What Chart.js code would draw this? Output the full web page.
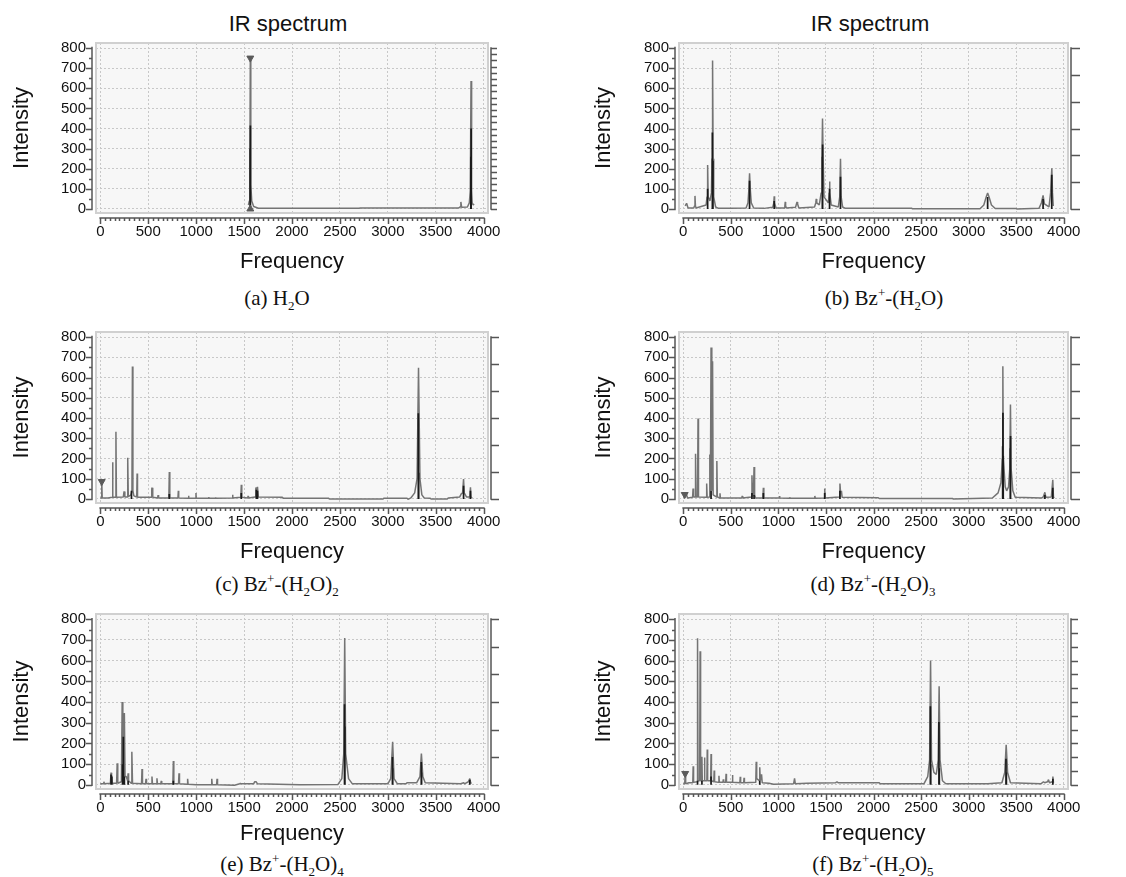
<!DOCTYPE html>
<html>
<head>
<meta charset="utf-8">
<script src="https://cdn.jsdelivr.net/npm/chart.js@4.4.1/dist/chart.umd.min.js"></script>
<style>
  body { margin: 0; background: #fff; width: 1126px; height: 877px; position: relative; overflow: hidden; }
  canvas { position: absolute; }
  .ttl { position: absolute; font: 22px "Liberation Sans", Arial, sans-serif; color: #111; transform: translate(-50%, -50%); white-space: nowrap; }
  .cap { position: absolute; font: 21px "Liberation Serif", "Times New Roman", serif; color: #111; transform: translate(-50%, -50%); white-space: nowrap; }
  .cap sub, .cap sup { font-size: 0.62em; line-height: 0; }
</style>
</head>
<body>
<div class="ttl" style="left:288px;top:24px">IR spectrum</div>
<div class="ttl" style="left:870px;top:24px">IR spectrum</div>
<div class="cap" style="left:277px;top:298px">(a) H<sub>2</sub>O</div>
<div class="cap" style="left:884px;top:298px">(b) Bz<sup>+</sup>-(H<sub>2</sub>O)</div>
<div class="cap" style="left:277px;top:584px">(c) Bz<sup>+</sup>-(H<sub>2</sub>O)<sub>2</sub></div>
<div class="cap" style="left:873px;top:584px">(d) Bz<sup>+</sup>-(H<sub>2</sub>O)<sub>3</sub></div>
<div class="cap" style="left:282px;top:864px">(e) Bz<sup>+</sup>-(H<sub>2</sub>O)<sub>4</sub></div>
<div class="cap" style="left:873px;top:864px">(f) Bz<sup>+</sup>-(H<sub>2</sub>O)<sub>5</sub></div>

<script>
// Spectra: broadened envelope (grey) and mode sticks (black)

// (a) H2O
const freqA = [1545, 1555, 1560, 1565, 1570, 1580, 1600, 1650, 1700, 2700, 2710, 3740, 3755, 3762, 3770, 3830, 3850, 3860, 3868, 3874, 3880, 3890, 3900];
const intA  = [20, 40, 120, 750, 120, 40, 12, 4, 3, 3, 5, 5, 10, 35, 8, 10, 30, 90, 636, 90, 30, 20, 25];
const stickFreqA = [1563, 1566, 3866, 3869];
const stickIntA  = [300, 415, 260, 400];
const markDownFreqA = [1565];
const markDownIntA  = [750];
const markUpFreqA = [1565];
const markUpIntA  = [0];

// (b) Bz+-(H2O)
const freqB = [20, 35, 50, 110, 118, 123, 128, 135,
  240, 250, 256, 262, 280, 296, 302, 308, 314, 320, 340, 370, 500,
  660, 680, 690, 697, 704, 715, 740,
  850, 940, 952, 956, 960, 975,
  1060, 1068, 1072, 1076, 1085,
  1180, 1190, 1196, 1202, 1215,
  1380, 1393, 1398, 1403,
  1430, 1450, 1458, 1464, 1470, 1480,
  1525, 1534, 1538, 1542, 1555,
  1630, 1645, 1653, 1660, 1675, 1700,
  2400, 2410,
  3120, 3160, 3185, 3200, 3215, 3240, 3280,
  3500, 3510,
  3740, 3765, 3783, 3797,
  3845, 3862, 3875, 3882, 3890];
const intB = [15, 28, 5, 5, 15, 65, 15, 5,
  20, 60, 218, 60, 40, 80, 250, 738, 250, 60, 10, 3, 3,
  5, 30, 100, 177, 100, 30, 5,
  3, 8, 30, 63, 30, 5,
  5, 15, 35, 15, 5,
  8, 25, 35, 25, 5,
  10, 30, 50, 30,
  20, 80, 260, 450, 260, 60,
  30, 80, 137, 80, 20,
  10, 60, 250, 60, 10, 4,
  4, 1,
  1, 20, 60, 80, 60, 20, 2,
  2, 0,
  3, 30, 68, 25,
  10, 80, 202, 80, 15];
const stickFreqB = [256, 306, 312, 697, 956, 1462, 1465, 1538, 1653, 3200, 3783, 3874];
const stickIntB  = [100, 380, 240, 140, 40, 260, 320, 100, 160, 60, 50, 170];

// (c) Bz+-(H2O)2
const freqC = [0, 10, 15, 20, 80,
  124, 128, 132, 158, 163, 168,
  240, 248, 256, 280, 286, 292,
  320, 330, 335, 340, 350,
  380, 384, 388,
  530, 537, 542, 547,
  598, 603, 608,
  715, 720, 725,
  810, 814, 818,
  918, 921, 924,
  995, 998, 1001,
  1128, 1131, 1134,
  1199, 1202, 1205,
  1376, 1380, 1384,
  1466, 1471, 1476,
  1538, 1542, 1546,
  1615, 1623, 1632, 1640, 1648,
  1900, 1905, 2380, 2390, 2950, 2960, 3200, 3210,
  3240, 3280, 3305, 3320, 3335, 3355, 3380,
  3440, 3450, 3620, 3630,
  3750, 3766, 3780, 3790, 3797, 3820,
  3855, 3862, 3868, 3880];
const intC = [5, 5, 86, 5, 5,
  8, 181, 8, 8, 332, 8,
  10, 37, 10, 10, 204, 12,
  20, 40, 655, 40, 15,
  10, 126, 8,
  8, 52, 55, 8,
  5, 19, 5,
  5, 133, 5,
  5, 40, 5,
  3, 16, 3,
  3, 29, 3,
  3, 10, 3,
  3, 8, 3,
  5, 21, 5,
  8, 70, 8,
  5, 15, 5,
  10, 57, 30, 60, 10,
  8, 4, 4, 0, 0, 4, 4, -2,
  5, 30, 100, 648, 100, 20, 5,
  4, 0, 0, 5,
  10, 25, 30, 98, 30, 10,
  10, 57, 10, 5];
const stickFreqC = [325, 720, 1471, 1628, 1640, 3318, 3322, 3790, 3862];
const stickIntC  = [40, 25, 30, 45, 40, 424, 130, 65, 40];
const markDownFreqC = [15];
const markDownIntC  = [86];

// (d) Bz+-(H2O)3
const freqD = [5, 12, 20, 35, 45,
  98, 103, 108, 124, 129, 134, 150, 155, 160, 241, 246, 251,
  274, 279, 285, 292, 300, 308, 314,
  348, 353, 358, 382, 386, 390, 615, 620, 625,
  716, 722, 728, 738, 744, 750, 760,
  837, 842, 847, 1008, 1012, 1016, 1115, 1119, 1123, 1378, 1383, 1388, 1482, 1487, 1492,
  1640, 1647, 1654, 1663, 1670,
  2050, 2060, 2830, 2840,
  3250, 3310, 3340, 3355, 3360, 3365, 3385, 3400, 3420, 3433, 3440, 3447, 3465, 3490,
  3770, 3785, 3802, 3812,
  3870, 3885, 3892, 3900];
const intD = [20, 5, 25, 20, 5,
  8, 52, 10, 10, 223, 10, 10, 398, 10, 8, 76, 8,
  10, 220, 40, 748, 40, 681, 20,
  10, 187, 10, 5, 28, 5, 5, 15, 5,
  10, 117, 20, 20, 158, 20, 5,
  5, 55, 5, 5, 15, 5, 4, 8, 4, 4, 15, 4, 5, 52, 5,
  10, 76, 30, 40, 8,
  6, 2, 2, 0,
  5, 30, 80, 200, 656, 200, 60, 40, 60, 150, 467, 150, 40, 8,
  5, 10, 33, 8,
  10, 95, 10, 5];
const stickFreqD = [292, 722, 744, 842, 1487, 1647, 3358, 3361, 3364, 3438, 3441, 3802, 3885];
const stickIntD  = [40, 30, 20, 30, 30, 40, 260, 426, 213, 250, 311, 20, 55];
const markDownFreqD = [15];
const markDownIntD  = [22];

// (e) Bz+-(H2O)4
const freqE = [0, 30, 37, 44,
  105, 112, 118, 124,
  170, 176, 182,
  220, 228, 235, 245, 251, 258, 270, 285, 290, 295,
  322, 329, 336, 430, 435, 440, 472, 477, 482, 534, 539, 544,
  586, 591, 596, 631, 636, 641, 757, 762, 767, 816, 821, 826, 906, 911, 916,
  1000, 1158, 1163, 1168, 1213, 1218, 1223, 1400,
  1455, 1461, 1467, 1600, 1610, 1625, 1640,
  2080, 2090,
  2480, 2520, 2540, 2550, 2560, 2590, 2630,
  3000, 3030, 3050, 3065, 3100,
  3190, 3200,
  3300, 3335, 3350, 3365, 3390,
  3760, 3792, 3800,
  3840, 3855, 3862, 3870];
const intE = [5, 5, 15, 5,
  8, 59, 50, 8,
  8, 104, 8,
  15, 400, 30, 30, 347, 40, 40, 20, 56, 20,
  8, 160, 8, 5, 77, 5, 5, 29, 5, 5, 40, 5,
  5, 32, 5, 5, 19, 5, 5, 115, 5, 5, 56, 5, 3, 29, 3,
  0, 0, 29, 0, 0, 29, 0, -2,
  5, 8, 5, 5, 15, 15, 5,
  0, 0,
  2, 30, 150, 709, 150, 30, 5,
  5, 30, 208, 30, 5,
  5, 10,
  10, 40, 151, 40, 10,
  5, 10, 5,
  15, 30, 15, 5];
const stickFreqE = [112, 120, 232, 240, 251, 290, 762, 2548, 2552, 3048, 3051, 3349, 3352, 3855];
const stickIntE  = [50, 40, 100, 232, 40, 20, 20, 389, 282, 135, 80, 110, 60, 25];

// (f) Bz+-(H2O)5
const freqF = [0, 15, 20, 25, 60,
  100, 104, 108, 145, 150, 155, 172, 177, 182, 192, 196, 200,
  219, 223, 227, 248, 252, 256, 288, 292, 296, 321, 325, 329,
  371, 375, 379, 417, 421, 425, 446, 450, 454, 513, 517, 521,
  595, 599, 603, 635, 639, 643, 762, 767, 772, 800, 804, 810, 823, 830,
  900, 950, 1160, 1170, 1178, 1300, 1600, 1616, 1630,
  2060, 2070,
  2530, 2570, 2590, 2600, 2610, 2635, 2660, 2680, 2690, 2700, 2725, 2760,
  2900, 3200,
  3350, 3380, 3395, 3410, 3440,
  3760, 3787, 3800, 3830, 3840, 3850, 3880, 3886, 3892];
const intF = [5, 5, 55, 5, 10,
  10, 90, 12, 15, 708, 20, 20, 645, 20, 20, 136, 20,
  20, 132, 20, 20, 171, 20, 20, 149, 20, 15, 69, 15,
  12, 44, 12, 12, 27, 12, 12, 53, 12, 12, 47, 12,
  10, 39, 10, 10, 34, 10, 12, 112, 30, 20, 85, 20, 51, 10,
  8, 3, 5, 31, 5, 8, 10, 15, 10,
  10, 5,
  5, 40, 120, 601, 120, 60, 50, 120, 476, 120, 20, 5,
  5, 5,
  10, 60, 194, 60, 10,
  5, 15, 10, 15, 25, 10, 15, 40, 10];
const stickFreqF = [150, 196, 292, 804, 2598, 2602, 2688, 2692, 3393, 3397, 3886];
const stickIntF  = [20, 20, 40, 20, 379, 100, 303, 80, 126, 60, 30];
const markDownFreqF = [20];
const markDownIntF  = [55];

// axis tick values
const xTickValues = [0, 500, 1000, 1500, 2000, 2500, 3000, 3500, 4000];
const yTickValues = [0, 100, 200, 300, 400, 500, 600, 700, 800];

// ---- layout ----
const cols = [
  { left: 0, width: 560, boxL: 96, boxR: 488, titlePad: 9 },
  { left: 560, width: 566, boxL: 679, boxR: 1068, titlePad: 31 }
];
const rows = [
  { top: 0, height: 279, boxT: 43, boxB: 213 },
  { top: 290, height: 279, boxT: 332, boxB: 503 },
  { top: 575, height: 276, boxT: 614, boxB: 789 }
];

const FONT = '"Liberation Sans", Arial, sans-serif';
Chart.defaults.font.family = FONT;
Chart.defaults.color = '#111';

function pts(fs, is) {
  return fs.map((f, i) => ({ x: f, y: is[i] }));
}

function sticks(fs, is) {
  const out = [];
  fs.forEach((f, i) => {
    out.push({ x: f, y: 0 }, { x: f, y: is[i] }, { x: f, y: null });
  });
  return out;
}

// grey plot box + the detached axes with minor ticks
const frameAxes = {
  id: 'frameAxes',
  beforeDraw(chart) {
    const { ctx, chartArea: a } = chart;
    ctx.save();
    ctx.fillStyle = '#f7f7f7';
    ctx.fillRect(a.left, a.top, a.right - a.left, a.bottom - a.top);
    ctx.restore();
  },
  afterDraw(chart, args, opts) {
    const { ctx, chartArea: a, scales } = chart;
    const x = scales.x, y = scales.y;
    ctx.save();
    ctx.strokeStyle = '#d0d0d0';
    ctx.lineWidth = 2;
    ctx.strokeRect(a.left, a.top, a.right - a.left, a.bottom - a.top);

    ctx.strokeStyle = '#555';
    ctx.lineWidth = 1.5;
    ctx.beginPath();
    // left axis
    const lx = a.left - 4;
    ctx.moveTo(lx, y.getPixelForValue(-6));
    ctx.lineTo(lx, y.getPixelForValue(806));
    for (let v = 0; v <= 800; v += 50) {
      const py = Math.round(y.getPixelForValue(v)) + 0.5;
      ctx.moveTo(lx, py);
      ctx.lineTo(lx - (v % 100 ? 3 : 6), py);
    }
    // bottom axis
    const by = a.bottom + 5;
    ctx.moveTo(x.getPixelForValue(-10), by);
    ctx.lineTo(x.getPixelForValue(4010), by);
    for (let v = 0; v <= 4000; v += 50) {
      const px = Math.round(x.getPixelForValue(v)) + 0.5;
      ctx.moveTo(px, by);
      ctx.lineTo(px, by + (v % 500 ? 3 : 6));
    }
    // right axis
    const rx = a.right + 3;
    ctx.moveTo(rx, y.getPixelForValue(-4));
    ctx.lineTo(rx, y.getPixelForValue(804));
    for (let k = 0; k <= opts.divs; k++) {
      const py = Math.round(y.getPixelForValue(800 * k / opts.divs)) + 0.5;
      ctx.moveTo(rx, py);
      ctx.lineTo(rx + opts.len, py);
    }
    ctx.stroke();
    ctx.restore();
  }
};

function makePanel(p) {
  const col = cols[p.col], row = rows[p.row];
  const canvas = document.createElement('canvas');
  canvas.width = col.width;
  canvas.height = row.height;
  canvas.style.left = col.left + 'px';
  canvas.style.top = row.top + 'px';
  document.body.appendChild(canvas);

  const datasets = [];
  if (p.downF) {
    datasets.push({
      data: pts(p.downF, p.downI), pointStyle: 'triangle', rotation: 180,
      pointRadius: 4, backgroundColor: '#5a5a5a', borderColor: '#5a5a5a', borderWidth: 1
    });
  }
  if (p.upF) {
    datasets.push({
      data: pts(p.upF, p.upI), pointStyle: 'triangle', rotation: 0,
      pointRadius: 4, backgroundColor: '#5a5a5a', borderColor: '#5a5a5a', borderWidth: 1
    });
  }
  datasets.push({
    data: sticks(p.sf, p.si), showLine: true, pointRadius: 0,
    borderColor: '#1a1a1a', borderWidth: 1.7, spanGaps: false
  });
  datasets.push({
    data: pts(p.f, p.i), showLine: true, pointRadius: 0,
    borderColor: '#747474', borderWidth: 1.5, borderJoinStyle: 'bevel'
  });

  new Chart(canvas, {
    type: 'scatter',
    data: { datasets },
    options: {
      responsive: false,
      animation: false,
      devicePixelRatio: 1,
      layout: {
        padding: { left: 0, top: row.boxT - row.top, right: col.width - (col.boxR - col.left), bottom: 0 }
      },
      plugins: {
        legend: { display: false },
        tooltip: { enabled: false },
        frameAxes: { divs: p.rightDivs, len: p.rightLen }
      },
      scales: {
        x: {
          type: 'linear',
          bounds: 'data',
          min: -45,
          max: 4045,
          afterBuildTicks: s => { s.ticks = xTickValues.map(v => ({ value: v })); },
          afterFit: s => { s.height = row.top + row.height - row.boxB; },
          grid: { color: '#c8c8c8', lineWidth: 1, drawTicks: false },
          border: { display: false, dash: [2, 2] },
          ticks: {
            autoSkip: false, maxRotation: 0, padding: 10,
            font: { size: 15 }, color: '#111',
            callback: v => String(v)
          },
          title: {
            display: true, text: 'Frequency', color: '#111',
            font: { size: 22 }, padding: { top: 0, bottom: 4 }
          }
        },
        y: {
          type: 'linear',
          bounds: 'data',
          min: -20,
          max: 825,
          afterBuildTicks: s => { s.ticks = yTickValues.map(v => ({ value: v })); },
          afterFit: s => { s.width = col.boxL - col.left; },
          grid: { color: '#c8c8c8', lineWidth: 1, drawTicks: false },
          border: { display: false, dash: [2, 2] },
          ticks: {
            autoSkip: false, padding: 10,
            font: { size: 15 }, color: '#111',
            callback: v => String(v)
          },
          title: {
            display: true, text: 'Intensity', color: '#111',
            font: { size: 22 }, padding: { top: col.titlePad, bottom: 0 }
          }
        }
      }
    },
    plugins: [frameAxes]
  });
}

makePanel({ col: 0, row: 0, f: freqA, i: intA, sf: stickFreqA, si: stickIntA,
  downF: markDownFreqA, downI: markDownIntA, upF: markUpFreqA, upI: markUpIntA, rightDivs: 26, rightLen: 6 });
makePanel({ col: 1, row: 0, f: freqB, i: intB, sf: stickFreqB, si: stickIntB, rightDivs: 6, rightLen: 9 });
makePanel({ col: 0, row: 1, f: freqC, i: intC, sf: stickFreqC, si: stickIntC,
  downF: markDownFreqC, downI: markDownIntC, rightDivs: 6, rightLen: 8 });
makePanel({ col: 1, row: 1, f: freqD, i: intD, sf: stickFreqD, si: stickIntD,
  downF: markDownFreqD, downI: markDownIntD, rightDivs: 6, rightLen: 9 });
makePanel({ col: 0, row: 2, f: freqE, i: intE, sf: stickFreqE, si: stickIntE, rightDivs: 6, rightLen: 8 });
makePanel({ col: 1, row: 2, f: freqF, i: intF, sf: stickFreqF, si: stickIntF,
  downF: markDownFreqF, downI: markDownIntF, rightDivs: 12, rightLen: 7 });
</script>
</body>
</html>
